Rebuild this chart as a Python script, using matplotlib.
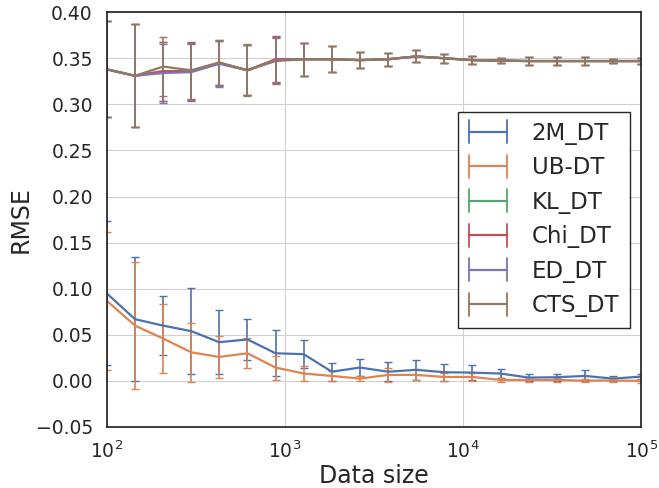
import numpy as np
import matplotlib
matplotlib.use("Agg")
import matplotlib.pyplot as plt
from matplotlib.legend_handler import HandlerBase
from matplotlib.lines import Line2D
import seaborn as sns

# Data sizes: 20 log-spaced sample sizes from 1e2 to 1e5
sizes = [100, 144, 207, 298, 428, 616, 886, 1274, 1833, 2637,
         3793, 5456, 7848, 11288, 16238, 23357, 33598, 48329, 69519, 100000]

rmse_2m = [0.095, 0.067, 0.060, 0.054, 0.042, 0.045, 0.030, 0.029, 0.010, 0.0145,
           0.010, 0.012, 0.0094, 0.009, 0.008, 0.0036, 0.004, 0.0054, 0.0025, 0.0047]
err_2m = [0.078, 0.067, 0.032, 0.047, 0.035, 0.0225, 0.025, 0.015, 0.0098, 0.009,
          0.0105, 0.0105, 0.009, 0.008, 0.005, 0.004, 0.004, 0.006, 0.003, 0.003]

rmse_ub = [0.087, 0.060, 0.046, 0.031, 0.026, 0.030, 0.0145, 0.008, 0.0054, 0.0025,
           0.0065, 0.0065, 0.0043, 0.0043, 0.001, 0.0011, 0.001, 0.0003, 0.0005, 0.0]
err_ub = [0.075, 0.069, 0.0377, 0.032, 0.023, 0.0165, 0.013, 0.008, 0.005, 0.003,
          0.0075, 0.006, 0.004, 0.004, 0.002, 0.002, 0.002, 0.002, 0.002, 0.002]

rmse_kl = [0.338, 0.331, 0.336, 0.336, 0.345, 0.337, 0.348, 0.349, 0.349, 0.348,
           0.349, 0.352, 0.350, 0.348, 0.3475, 0.347, 0.347, 0.347, 0.347, 0.347]
err_kl = [0.052, 0.056, 0.032, 0.031, 0.025, 0.028, 0.025, 0.018, 0.014, 0.0085,
          0.007, 0.0065, 0.005, 0.004, 0.003, 0.004, 0.004, 0.004, 0.0025, 0.003]

rmse_chi = [0.338, 0.331, 0.336, 0.336, 0.345, 0.337, 0.349, 0.349, 0.349, 0.348,
            0.349, 0.352, 0.350, 0.348, 0.3475, 0.347, 0.347, 0.347, 0.347, 0.347]
err_chi = [0.052, 0.056, 0.032, 0.031, 0.024, 0.027, 0.025, 0.018, 0.014, 0.0085,
           0.007, 0.0065, 0.005, 0.004, 0.003, 0.004, 0.004, 0.004, 0.0025, 0.003]

rmse_ed = [0.338, 0.331, 0.334, 0.335, 0.344, 0.337, 0.348, 0.349, 0.349, 0.348,
           0.349, 0.352, 0.350, 0.348, 0.3475, 0.347, 0.347, 0.347, 0.347, 0.347]
err_ed = [0.052, 0.056, 0.032, 0.031, 0.025, 0.027, 0.025, 0.018, 0.014, 0.0085,
          0.007, 0.0065, 0.005, 0.004, 0.003, 0.004, 0.004, 0.004, 0.0025, 0.003]

rmse_cts = [0.338, 0.331, 0.341, 0.337, 0.3455, 0.337, 0.347, 0.349, 0.349, 0.348,
            0.349, 0.352, 0.350, 0.348, 0.3475, 0.347, 0.347, 0.347, 0.347, 0.347]
err_cts = [0.052, 0.056, 0.032, 0.031, 0.0245, 0.027, 0.025, 0.018, 0.014, 0.0085,
           0.007, 0.0065, 0.005, 0.004, 0.003, 0.004, 0.004, 0.004, 0.0025, 0.003]

labels = ["2M_DT", "UB-DT", "KL_DT", "Chi_DT", "ED_DT", "CTS_DT"]


class CappedLineHandler(HandlerBase):
    """Legend key: a horizontal line closed by a vertical cap at each end."""

    def create_artists(self, legend, orig_handle, xdescent, ydescent,
                       width, height, fontsize, trans):
        col = orig_handle.get_color()
        yc = height / 2.0 - ydescent
        half = 0.5 * fontsize
        x0, x1 = -xdescent, -xdescent + width
        line = Line2D([x0, x1], [yc, yc], color=col, lw=1.6, transform=trans)
        cap0 = Line2D([x0, x0], [yc - half, yc + half], color=col, lw=1.3,
                      transform=trans)
        cap1 = Line2D([x1, x1], [yc - half, yc + half], color=col, lw=1.3,
                      transform=trans)
        return [line, cap0, cap1]


sns.set_style("whitegrid")
plt.rcParams.update({
    "font.family": ["DejaVu Sans"],
    "axes.edgecolor": "#262626",
    "axes.linewidth": 1.25,
    "grid.color": "#d0d0d0",
    "text.color": "#262626",
    "xtick.color": "#262626",
    "ytick.color": "#262626",
    "axes.unicode_minus": True,
})

palette = sns.color_palette("deep")

fig = plt.figure(figsize=(6.59, 4.88), dpi=100)
ax = fig.add_axes([0.162, 0.125, 0.811, 0.850])

series = [(rmse_2m, err_2m), (rmse_ub, err_ub), (rmse_kl, err_kl),
          (rmse_chi, err_chi), (rmse_ed, err_ed), (rmse_cts, err_cts)]
proxies = []
for (vals, errs), lab, col in zip(series, labels, palette):
    ax.errorbar(sizes, vals, yerr=errs, color=col, lw=1.6, elinewidth=1.2,
                capsize=3, capthick=1.0)
    proxies.append(Line2D([], [], color=col))

ax.set_xscale("log")
ax.set_xlim(100, 100000)
ax.set_ylim(-0.05, 0.40)
ax.set_yticks(np.arange(-0.05, 0.401, 0.05))
ax.yaxis.set_major_formatter(
    matplotlib.ticker.FuncFormatter(lambda v, p: f"{v:.2f}".replace("-", "\u2212")))
ax.minorticks_off()
ax.tick_params(axis="both", labelsize=13.5, length=0, pad=10)
ax.set_xlabel("Data size", fontsize=17, labelpad=1)
ax.set_ylabel("RMSE", fontsize=17, labelpad=2)

leg = ax.legend(proxies, labels, handler_map={Line2D: CappedLineHandler()},
                loc="center right", fontsize=16.5, fancybox=False, frameon=True,
                handlelength=1.65, handletextpad=1.1, borderpad=0.45,
                labelspacing=0.5)
leg.get_frame().set_edgecolor("#262626")
leg.get_frame().set_linewidth(1.0)
leg.get_frame().set_alpha(1.0)

fig.savefig("out.png", dpi=100)
